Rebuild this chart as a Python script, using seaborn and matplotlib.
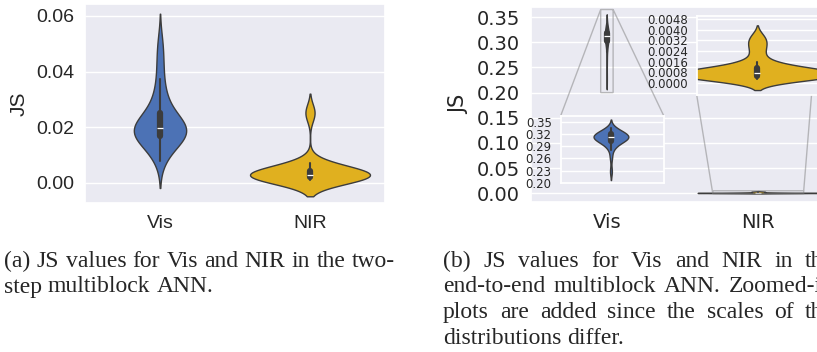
import matplotlib
matplotlib.use("Agg")
import matplotlib.pyplot as plt
import pandas as pd
import seaborn as sns

# Tamanho final da figura em pixels
W, H = 817, 352

bands = ["Vis", "NIR"]
band_colors = ["#4C72B5", "#E0B01F"]

# (a) rede multibloco em duas etapas
js_two_step_vis = [0.0080, 0.0102, 0.0121, 0.0135, 0.0146, 0.0153, 0.0160, 0.0165,
                   0.0170, 0.0174, 0.0178, 0.0181, 0.0184, 0.0186, 0.0189, 0.0192,
                   0.0196, 0.0200, 0.0205, 0.0211, 0.0218, 0.0226, 0.0233, 0.0240,
                   0.0252, 0.0268, 0.0288, 0.0310, 0.0330, 0.0372, 0.0415, 0.0462,
                   0.0510]
js_two_step_nir = [0.0011, 0.0013, 0.0014, 0.0016, 0.0017, 0.0018, 0.0019, 0.0020,
                   0.0021, 0.0022, 0.0023, 0.0024, 0.0025, 0.0026, 0.0027, 0.0028,
                   0.0030, 0.0032, 0.0034, 0.0036, 0.0038, 0.0041, 0.0044, 0.0048,
                   0.0053, 0.0059, 0.0065, 0.0071, 0.0242, 0.0262]
ticks_a = [0.00, 0.02, 0.04, 0.06]

# (b) rede multibloco ponta a ponta
js_e2e_vis = [0.228, 0.262, 0.281, 0.289, 0.294, 0.297, 0.300, 0.302, 0.304, 0.306,
              0.307, 0.308, 0.309, 0.310, 0.311, 0.312, 0.313, 0.314, 0.315, 0.316,
              0.317, 0.318, 0.319, 0.320, 0.322, 0.324, 0.326, 0.328, 0.331, 0.334]
js_e2e_nir = [0.00030, 0.00034, 0.00038, 0.00042, 0.00045, 0.00048, 0.00051, 0.00054,
              0.00057, 0.00060, 0.00062, 0.00064, 0.00066, 0.00068, 0.00070, 0.00073,
              0.00076, 0.00080, 0.00085, 0.00090, 0.00096, 0.00103, 0.00112, 0.00125,
              0.00142, 0.00160, 0.00220, 0.00270, 0.00310, 0.00350]
ticks_b = [0.00, 0.05, 0.10, 0.15, 0.20, 0.25, 0.30, 0.35]
ticks_zoom_vis = [0.20, 0.23, 0.26, 0.29, 0.32, 0.35]
ticks_zoom_nir = [0.0000, 0.0008, 0.0016, 0.0024, 0.0032, 0.0040, 0.0048]

# Legendas (linhas como no artigo)
caption_a = ["(a) JS values for Vis and NIR in the two-",
             "step multiblock ANN."]
caption_b = ["(b) JS values for Vis and NIR in the",
             "end-to-end multiblock ANN. Zoomed-in",
             "plots are added since the scales of the",
             "distributions differ."]


def px_rect(left, top, right, bottom):
    return [left / W, 1 - bottom / H, (right - left) / W, (bottom - top) / H]


def draw_violins(ax, vis, nir):
    tabela = pd.DataFrame({"band": ["Vis"] * len(vis) + ["NIR"] * len(nir),
                           "JS": vis + nir})
    sns.violinplot(data=tabela, x="band", y="JS", hue="band", palette=band_colors,
                   saturation=1, linecolor="#3c3c3c", linewidth=1.0,
                   common_norm=True, legend=False, ax=ax)
    ax.set_xlabel("")
    ax.tick_params(length=0)


def caption(fig, renderer, lines, x0, x1, y0, step):
    size = 17
    space = 0.25 * size * fig.dpi / 72
    for i, line in enumerate(lines):
        words = line.split(" ")
        texts = [fig.text(0, 0, w, fontsize=size, family="Liberation Serif",
                          va="baseline", ha="left") for w in words]
        widths = [t.get_window_extent(renderer).width for t in texts]
        last = i == len(lines) - 1
        gap = space if last else (x1 - x0 - sum(widths)) / (len(words) - 1)
        x = x0
        y = y0 + i * step
        for t, w in zip(texts, widths):
            t.set_position((x / W, 1 - y / H))
            x += w + gap


def main():
    sns.set_theme(style="darkgrid")
    plt.rcParams["font.family"] = ["DejaVu Sans"]
    fig = plt.figure(figsize=(W / 100, H / 100), dpi=100)

    # (a)
    ax_a = fig.add_axes(px_rect(85, 4, 385, 203))
    draw_violins(ax_a, js_two_step_vis, js_two_step_nir)
    ax_a.set_xlim(-0.5, 1.5)
    ax_a.set_ylim(-0.0072, 0.0643)
    ax_a.set_yticks(ticks_a, [f"{t:.2f}" for t in ticks_a],
                    fontsize=14, fontfamily="Liberation Sans")
    ax_a.set_xticks([0, 1], bands, fontsize=14, fontfamily="Liberation Sans")
    ax_a.tick_params(axis="y", pad=8)
    ax_a.tick_params(axis="x", pad=8.5)
    ax_a.set_ylabel("JS", fontsize=15, fontfamily="Liberation Sans")
    ax_a.yaxis.set_label_coords(-0.187, 0.5)

    # (b)
    ax_b = fig.add_axes(px_rect(531, 7, 834, 202))
    draw_violins(ax_b, js_e2e_vis, js_e2e_nir)
    ax_b.set_xlim(-0.5, 1.5)
    ax_b.set_ylim(-0.0173, 0.37)
    ax_b.set_yticks(ticks_b, [f"{t:.2f}" for t in ticks_b], fontsize=14)
    ax_b.set_xticks([0, 1], bands, fontsize=14)
    ax_b.tick_params(axis="y", pad=8)
    ax_b.tick_params(axis="x", pad=8)
    ax_b.set_ylabel("JS", fontsize=15)
    ax_b.yaxis.set_label_coords(-0.204, 0.5)

    # zoom no Vis
    ax_zv = fig.add_axes(px_rect(560.7, 115.7, 663.7, 182.7))
    draw_violins(ax_zv, js_e2e_vis, js_e2e_nir)
    ax_zv.set_xlim(-0.04, 0.042)
    ax_zv.set_ylim(0.20, 0.365)
    ax_zv.set_xticks([])
    ax_zv.set_ylabel("")
    ax_zv.set_yticks(ticks_zoom_vis, [f"{t:.2f}" for t in ticks_zoom_vis], fontsize=8.5)
    ax_zv.tick_params(axis="y", pad=6.5)
    ax_b.indicate_inset_zoom(ax_zv)

    # zoom no NIR
    ax_zn = fig.add_axes(px_rect(696.7, 15.7, 818, 95))
    draw_violins(ax_zn, js_e2e_vis, js_e2e_nir)
    ax_zn.set_xlim(0.7, 1.3)
    ax_zn.set_ylim(-0.0009, 0.00505)
    ax_zn.set_xticks([])
    ax_zn.set_ylabel("")
    ax_zn.set_yticks(ticks_zoom_nir, [f"{t:.4f}" for t in ticks_zoom_nir], fontsize=8.5)
    ax_zn.tick_params(axis="y", pad=6)
    ax_b.indicate_inset_zoom(ax_zn)

    renderer = fig.canvas.get_renderer()
    caption(fig, renderer, caption_a, 4, 395, 267, 25.5)
    caption(fig, renderer, caption_b, 443, 834, 267, 25.5)

    fig.savefig("out.png", dpi=100)
    plt.close(fig)


if __name__ == "__main__":
    main()
